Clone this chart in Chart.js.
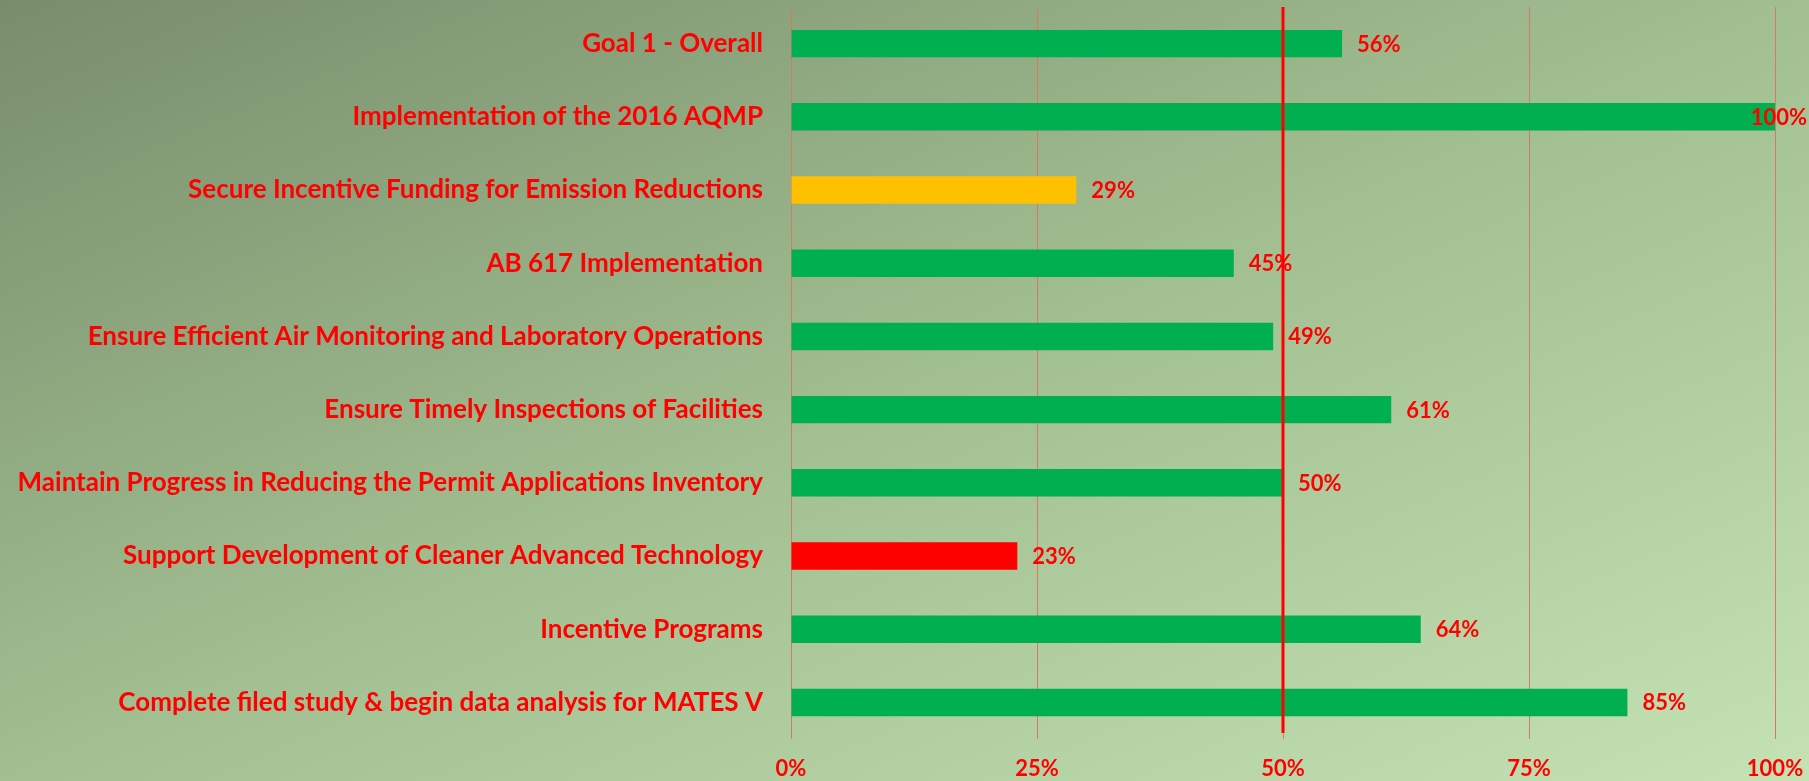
<!DOCTYPE html>
<html>
<head>
<meta charset="utf-8">
<script src="https://cdn.jsdelivr.net/npm/chart.js@4.4.1/dist/chart.umd.min.js"></script>
<style>
html,body{margin:0;padding:0;overflow:hidden;background:#a2bf91}
#wrap{width:1809px;height:781px;position:relative}
canvas{display:block}
</style>
</head>
<body>
<div id="wrap"><canvas id="c" width="1809" height="781"></canvas></div>
<script>
const categories = [
  'Goal 1 - Overall',
  'Implementation of the 2016 AQMP',
  'Secure Incentive Funding for Emission Reductions',
  'AB 617 Implementation',
  'Ensure Efficient Air Monitoring and Laboratory Operations',
  'Ensure Timely Inspections of Facilities',
  'Maintain Progress in Reducing the Permit Applications Inventory',
  'Support Development of Cleaner Advanced Technology',
  'Incentive Programs',
  'Complete filed study & begin data analysis for MATES V'
];
const values = [56, 100, 29, 45, 49, 61, 50, 23, 64, 85];
const barColors = ['#00B050','#00B050','#FFC000','#00B050','#00B050','#00B050','#00B050','#FF0000','#00B050','#00B050'];
const tickLabels = ['0%', '25%', '50%', '75%', '100%'];
const targetValue = 50;

const FONT = 'Lato, "Open Sans", sans-serif';
const RED = '#FF0000';

const bgPlugin = {
  id: 'bg',
  beforeDraw(chart) {
    const ctx = chart.ctx, w = chart.width, h = chart.height;
    const cx = w / 2, cy = h / 2;
    const dx = h, dy = w;
    const k = (cx * dx + cy * dy) / (dx * dx + dy * dy);
    const g = ctx.createLinearGradient(cx - dx * k, cy - dy * k, cx + dx * k, cy + dy * k);
    g.addColorStop(0, '#788d6c');
    g.addColorStop(0.5, '#a2bf91');
    g.addColorStop(1, '#c4e2b3');
    ctx.save();
    ctx.fillStyle = g;
    ctx.fillRect(0, 0, w, h);
    ctx.restore();
  }
};

const targetPlugin = {
  id: 'target',
  afterDatasetsDraw(chart) {
    const ctx = chart.ctx, xs = chart.scales.x, area = chart.chartArea;
    const x = Math.round(xs.getPixelForValue(targetValue));
    ctx.save();
    ctx.strokeStyle = RED;
    ctx.lineWidth = 3;
    ctx.beginPath();
    ctx.moveTo(x, area.top);
    ctx.lineTo(x, area.bottom - 6);
    ctx.stroke();
    ctx.restore();
  }
};

const labelPlugin = {
  id: 'vlabels',
  afterDatasetsDraw(chart) {
    const ctx = chart.ctx;
    const meta = chart.getDatasetMeta(0);
    ctx.save();
    ctx.font = 'bold 22px ' + FONT;
    ctx.fillStyle = RED;
    ctx.textBaseline = 'middle';
    ctx.textAlign = 'left';
    meta.data.forEach((bar, i) => {
      const t = values[i] + '%';
      const tw = ctx.measureText(t).width;
      let x = bar.x + 15;
      if (x + tw > chart.width - 2) x = chart.width - 2 - tw;
      ctx.fillText(t, x, bar.y + 1);
    });
    ctx.restore();
  }
};

new Chart(document.getElementById('c'), {
  type: 'bar',
  data: {
    labels: categories,
    datasets: [{
      data: values,
      backgroundColor: barColors,
      borderWidth: 0,
      categoryPercentage: 1,
      barPercentage: 0.375
    }]
  },
  options: {
    indexAxis: 'y',
    responsive: false,
    animation: false,
    devicePixelRatio: 1,
    layout: { padding: { top: 7, right: 34, bottom: 0, left: 0 } },
    plugins: { legend: { display: false }, tooltip: { enabled: false } },
    scales: {
      x: {
        min: 0, max: 100,
        afterFit(s) { s.height = 42; s.paddingLeft = 0; s.paddingRight = 0; s.paddingTop = 0; s.paddingBottom = 0; },
        afterBuildTicks(s) { s.ticks = tickLabels.map((l, i) => ({ value: i * 25 })); },
        ticks: {
          padding: 17,
          color: RED,
          font: { family: FONT, size: 22, weight: 'bold' },
          callback: (v, i) => tickLabels[i]
        },
        grid: { color: '#d87a60', lineWidth: 1, drawTicks: false },
        border: { display: false }
      },
      y: {
        afterFit(s) { s.width = 791; s.paddingTop = 0; s.paddingBottom = 0; s.paddingLeft = 0; s.paddingRight = 0; },
        ticks: {
          padding: 28,
          color: RED,
          font: { family: FONT, size: 26, weight: 'bold' }
        },
        grid: { display: false, drawTicks: false },
        border: { display: false }
      }
    }
  },
  plugins: [bgPlugin, targetPlugin, labelPlugin]
});
</script>
</body>
</html>
